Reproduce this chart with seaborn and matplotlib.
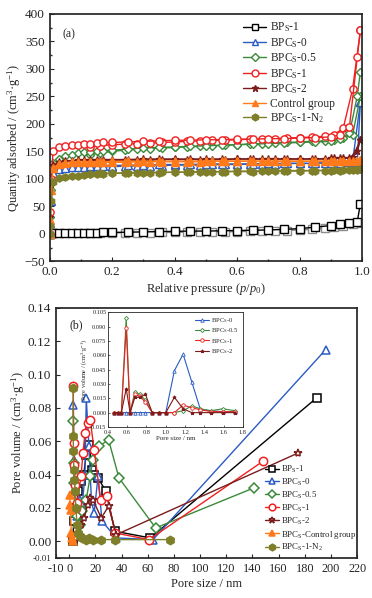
import matplotlib
matplotlib.use('Agg')
from matplotlib import pyplot as plt
from matplotlib.ticker import MultipleLocator, FormatStrFormatter
import seaborn as sns

# ---- (a) N2 isotherms ----
p_ads = [0.0, 0.001, 0.005, 0.01, 0.03, 0.05, 0.07, 0.09, 0.11, 0.13, 0.15, 0.17, 0.20, 0.25, 0.30, 0.35,
         0.40, 0.45, 0.50, 0.55, 0.60, 0.65, 0.70, 0.75, 0.80, 0.85, 0.90, 0.93, 0.96, 0.985, 0.995]
p_des = [0.995, 0.97, 0.94, 0.91, 0.88, 0.84, 0.80, 0.76, 0.72, 0.68, 0.64, 0.60, 0.56, 0.52, 0.48, 0.44,
         0.40, 0.36, 0.32, 0.28, 0.24, 0.20, 0.16, 0.13]

bps1_ads = [0, 0.5, 1, 1, 1.5, 1.5, 1.5, 2, 2, 2, 2, 2.5, 2.5, 3, 3.5, 4, 4.5, 5, 5, 5.5, 6, 6.5, 7, 8,
            9.5, 12, 15, 18, 20, 22, 55]
bps1_des = [20, 17, 14, 12, 10, 8, 7, 6, 5.5, 5, 4.5, 4, 3.5, 3.5, 3, 3, 2.5, 2.5, 2, 2, 2, 1.5, 1.5, 1.5]
bpc0_ads = [0, 20, 60, 110, 118, 120, 121, 122, 122, 123, 123, 124, 124, 125, 125, 126, 126, 126, 127, 127,
            127, 127, 128, 128, 128, 128, 129, 129, 130, 131, 240]
bpc0_des = [240, 131, 130, 129, 129, 128, 128, 128, 127, 127, 127, 126, 126, 126, 125, 125, 125, 124, 124,
            123, 123, 122, 122, 121]
bpc05_ads = [0, 30, 80, 128, 136, 141, 144, 146, 148, 149, 150, 151, 152, 154, 156, 157, 158, 159, 160, 161,
             162, 163, 164, 165, 166, 167, 168, 172, 183, 250, 295]
bpc05_des = [250, 180, 174, 171, 169, 168, 167, 166, 165, 164, 163, 162, 161, 160, 159, 158, 157, 156, 155,
             154, 152, 150, 147, 144]
bpc1_ads = [0, 40, 100, 150, 157, 160, 161, 162, 163, 164, 165, 166, 166, 167, 168, 169, 170, 170, 171, 171,
            172, 172, 173, 173, 174, 175, 176, 180, 195, 321, 370]
bpc1_des = [370, 263, 192, 180, 177, 176, 175, 174, 173, 172, 172, 171, 170, 170, 169, 168, 167, 166, 165,
            164, 163, 162, 160, 158]
bpc2_ads = [0, 30, 90, 125, 130, 132, 133, 134, 134, 135, 135, 135, 135, 135, 136, 136, 136, 136, 136, 136,
            136, 136, 136, 136, 136, 136, 137, 137, 138, 150, 170]
bpc2_des = [170, 140, 137, 137, 136, 136, 136, 136, 136, 136, 136, 136, 135, 135, 135, 135, 135, 135, 134,
            134, 134, 133, 133, 132]
ctrl_ads = [0, 25, 80, 120, 127, 129, 130, 130, 131, 131, 131, 131, 132, 132, 132, 132, 132, 132, 132, 132,
            132, 132, 132, 132, 132, 132, 132, 132, 132, 133, 134]
ctrl_des = [134, 133, 132, 132, 132, 132, 132, 132, 132, 132, 132, 132, 132, 132, 131, 131, 131, 131, 131,
            131, 130, 130, 130, 130]
n2_ads = [0, 15, 60, 95, 101, 103, 105, 106, 107, 108, 108, 109, 110, 110, 111, 111, 112, 112, 112, 113,
          113, 113, 114, 114, 114, 115, 115, 115, 116, 116, 117]
n2_des = [117, 116, 116, 116, 115, 115, 115, 115, 114, 114, 114, 114, 113, 113, 113, 112, 112, 112, 111,
          111, 111, 110, 110, 109]

# ---- (b) pore size distribution ----
bps1_x = [2.5, 3.5, 5, 7, 9, 11, 13, 15, 17, 19, 22, 28, 35, 62, 189]
bps1_y = [0.0, 0.012, 0.02, 0.03, 0.036, 0.04, 0.052, 0.058, 0.043, 0.04, 0.038, 0.030, 0.006, 0.002, 0.086]
bpc0_x = [3, 3.5, 4, 5, 6, 8, 10, 12, 13, 15, 17, 19, 22, 25, 36, 64, 196]
bpc0_y = [0.082, 0.049, 0.03, 0.02, 0.015, 0.025, 0.022, 0.04, 0.086, 0.057, 0.024, 0.017, 0.039, 0.012,
          0.002, 0.001, 0.115]
bpc05_x = [3, 3.5, 4, 5, 6, 8, 10, 13, 16, 18, 23, 30, 38, 66, 141]
bpc05_y = [0.072, 0.047, 0.035, 0.02, 0.015, 0.01, 0.018, 0.025, 0.039, 0.049, 0.057, 0.061, 0.038, 0.008,
           0.032]
bpc1_x = [3, 3.5, 4, 4.5, 5, 6, 9, 10.5, 12, 14, 16, 19, 24, 29, 35, 61, 148]
bpc1_y = [0.093, 0.059, 0.046, 0.034, 0.02, 0.023, 0.039, 0.053, 0.065, 0.071, 0.073, 0.055, 0.025, 0.027,
          0.005, 0.001, 0.048]
bpc2_x = [3, 5, 7, 9, 11.5, 14, 15.5, 18, 24.5, 30, 36, 175]
bpc2_y = [0.0, 0.002, 0.005, 0.01, 0.014, 0.022, 0.026, 0.025, 0.014, 0.021, 0.004, 0.053]
ctrl_x = [0.3, 0.6, 1.0, 1.5, 2.0, 2.5]
ctrl_y = [0.028, 0.022, 0.019, 0.005, 0.002, 0.0]
n2_x = [3, 3, 3.2, 3.5, 4, 4.5, 5, 6, 7, 8, 10, 13, 15, 18, 24, 35, 77]
n2_y = [0.092, 0.063, 0.054, 0.043, 0.037, 0.030, 0.020, 0.010, 0.005, 0.003, 0.002, 0.001, 0.002, 0.001,
        0.001, 0.001, 0.001]

# ---- inset: micropores ----
inset_x = [0.46, 0.50, 0.54, 0.59, 0.63, 0.68, 0.73, 0.79, 0.86, 0.93, 1.00, 1.09, 1.18, 1.27, 1.36, 1.47,
           1.59, 1.72]
inset_bpc0 = [0, 0, 0, 0, 0, 0, 0, 0, 0, 0, 0, 0.044, 0.061, 0.032, 0.003, 0.002, 0.001, 0.001]
inset_bpc05 = [0, 0, 0, 0.099, 0, 0.022, 0.019, 0.013, 0, 0, 0, 0, 0.002, 0.007, 0.004, 0.002, 0.004, 0.002]
inset_bpc1 = [0, 0, 0, 0.088, 0, 0.019, 0.017, 0.011, 0, 0, 0, 0, 0.008, 0.005, 0.003, 0.001, 0.001, 0.001]
inset_bpc2 = [0, 0, 0, 0.025, 0, 0.016, 0.016, 0.019, 0, 0, 0, 0.016, 0.004, 0, 0, 0, 0, 0]

BLACK, BLUE, GREEN, RED = '#000000', '#2a5bc4', '#3a8a3a', '#f02020'
DRED, ORANGE, OLIVE = '#7a1c1c', '#ff7a1a', '#7f7f2a'

sns.set_theme(style='ticks')
plt.rcParams['font.family'] = ['Liberation Serif', 'DejaVu Serif']
plt.rcParams['mathtext.fontset'] = 'custom'
plt.rcParams['mathtext.rm'] = 'Liberation Serif'
plt.rcParams['mathtext.it'] = 'Liberation Serif:italic'
plt.rcParams['xtick.direction'] = 'in'
plt.rcParams['ytick.direction'] = 'in'

fig = plt.figure(figsize=(3.72, 5.98), dpi=100)
ax1 = fig.add_axes([0.134, 0.563, 0.839, 0.414])
ax2 = fig.add_axes([0.151, 0.067, 0.809, 0.418])
ax3 = fig.add_axes([0.290, 0.286, 0.363, 0.192])


def curve(ax, x, y, color, marker, label=None, mfc='white', ms=5, lw=1.0, mew=1.0):
    sns.lineplot(x=x, y=y, ax=ax, sort=False, estimator=None, color=color, marker=marker,
                 mfc=mfc, mec=color, ms=ms, mew=mew, lw=lw, label=label, legend=False)


series_a = [
    (bps1_ads, bps1_des, BLACK, 's', 'white', 'BP$_\\mathrm{S}$-1'),
    (bpc0_ads, bpc0_des, BLUE, '^', 'white', 'BPC$_\\mathrm{S}$-0'),
    (bpc05_ads, bpc05_des, GREEN, 'D', 'white', 'BPC$_\\mathrm{S}$-0.5'),
    (bpc1_ads, bpc1_des, RED, 'o', 'white', 'BPC$_\\mathrm{S}$-1'),
    (bpc2_ads, bpc2_des, DRED, '*', DRED, 'BPC$_\\mathrm{S}$-2'),
    (ctrl_ads, ctrl_des, ORANGE, '^', ORANGE, 'Control group'),
    (n2_ads, n2_des, OLIVE, 'h', OLIVE, 'BPC$_\\mathrm{S}$-1-N$_2$'),
]
for ads, des, c, m, fc, lab in series_a:
    ms = 4.3 if m == 'D' else 5.2
    dc = '#8c8c8c' if c == BLACK else c
    curve(ax1, p_des, des, dc, m, None, fc, ms)
    curve(ax1, p_ads, ads, c, m, lab, fc, ms)

ax1.set_xlim(0, 1.0)
ax1.set_ylim(-50, 400)
ax1.xaxis.set_major_locator(MultipleLocator(0.2))
ax1.xaxis.set_minor_locator(MultipleLocator(0.1))
ax1.yaxis.set_major_locator(MultipleLocator(50))
ax1.yaxis.set_minor_locator(MultipleLocator(25))
ax1.xaxis.set_major_formatter(FormatStrFormatter('%.1f'))
ax1.set_xlabel('Relative pressure ($p$/$p_0$)', fontsize=9, labelpad=2)
ax1.set_ylabel('Quanity adsorbed / (cm$^3$·g$^{-1}$)', fontsize=9, labelpad=1)
ax1.tick_params(labelsize=9.5, length=3, width=0.8)
ax1.tick_params(which='minor', length=1.5)
ax1.text(0.04, 0.94, '(a)', transform=ax1.transAxes, fontsize=8.5, va='top')
h, l = ax1.get_legend_handles_labels()
ax1.legend(h, l, loc='upper right', bbox_to_anchor=(0.935, 1.0), frameon=False, fontsize=8.3,
           handlelength=2.0, labelspacing=0.14, handletextpad=0.3, borderaxespad=0.2, markerscale=0.95)

series_b = [
    (bps1_x, bps1_y, BLACK, 's', 'white', 'BP$_\\mathrm{S}$-1'),
    (bpc0_x, bpc0_y, BLUE, '^', 'white', 'BPC$_\\mathrm{S}$-0'),
    (bpc05_x, bpc05_y, GREEN, 'D', 'white', 'BPC$_\\mathrm{S}$-0.5'),
    (bpc1_x, bpc1_y, RED, 'o', 'white', 'BPC$_\\mathrm{S}$-1'),
    (bpc2_x, bpc2_y, DRED, '*', 'white', 'BPC$_\\mathrm{S}$-2'),
    (ctrl_x, ctrl_y, ORANGE, '^', ORANGE, 'BPC$_\\mathrm{S}$-Control group'),
    (n2_x, n2_y, OLIVE, 'h', OLIVE, 'BPC$_\\mathrm{S}$-1-N$_2$'),
]
for x, y, c, m, fc, lab in series_b:
    ms = 5 if m == 'D' else 6
    curve(ax2, x, y, c, m, lab, fc, ms, lw=1.0, mew=1.1)

ax2.set_xlim(-10, 220)
ax2.set_ylim(-0.01, 0.14)
ax2.set_xticks([-10] + list(range(0, 221, 20)))
ax2.set_xticklabels(['-10'] + [str(v) for v in range(0, 221, 20)])
ax2.set_yticks([-0.01, 0.0, 0.02, 0.04, 0.06, 0.08, 0.10, 0.12, 0.14])
ax2.set_yticklabels(['-0.01', '0.00', '0.02', '0.04', '0.06', '0.08', '0.10', '0.12', '0.14'])
ax2.set_xlabel('Pore size / nm', fontsize=9, labelpad=2)
ax2.set_ylabel('Pore volume / (cm$^3$·g$^{-1}$)', fontsize=9, labelpad=1)
ax2.tick_params(axis='y', labelsize=9.5, length=3, width=0.8)
ax2.tick_params(axis='x', labelsize=8.8, length=3, width=0.8)
ax2.get_yticklabels()[0].set_fontsize(6.5)
ax2.text(0.045, 0.955, '(b)', transform=ax2.transAxes, fontsize=8.5, va='top')
h, l = ax2.get_legend_handles_labels()
ax2.legend(h, l, loc='lower right', bbox_to_anchor=(1.01, 0.0), frameon=False, fontsize=6.4,
           handlelength=1.6, labelspacing=0.2, handletextpad=0.2, borderaxespad=0.1, markerscale=0.8)

series_i = [
    (inset_bpc0, BLUE, '^', 'BPC$_\\mathrm{S}$-0'),
    (inset_bpc05, GREEN, 'D', 'BPC$_\\mathrm{S}$-0.5'),
    (inset_bpc1, RED, 'o', 'BPC$_\\mathrm{S}$-1'),
    (inset_bpc2, DRED, '*', 'BPC$_\\mathrm{S}$-2'),
]
for y, c, m, lab in series_i:
    fc = c if m == '*' else 'white'
    sns.lineplot(x=inset_x, y=y, ax=ax3, sort=False, estimator=None, color=c, marker=m, mfc=fc, mec=c,
                 ms=2.5 if m != 'D' else 2.1, mew=0.6, lw=0.8, label=lab, legend=False)
ax3.set_xlim(0.4, 1.8)
ax3.set_ylim(-0.015, 0.105)
ax3.xaxis.set_major_locator(MultipleLocator(0.2))
ax3.yaxis.set_major_locator(MultipleLocator(0.015))
ax3.xaxis.set_major_formatter(FormatStrFormatter('%.1f'))
ax3.yaxis.set_major_formatter(FormatStrFormatter('%.3f'))
ax3.tick_params(labelsize=4.6, length=1.5, width=0.5, pad=1)
ax3.tick_params(axis='x', pad=2)
ax3.set_xlabel('Pore size / nm', fontsize=5, labelpad=1)
ax3.set_ylabel('Pore volume / (cm$^3$·g$^{-1}$)', fontsize=4.5, labelpad=1)
for s in ax3.spines.values():
    s.set_linewidth(0.6)
h, l = ax3.get_legend_handles_labels()
ax3.legend(h, l, loc='upper right', frameon=False, fontsize=4.8, handlelength=2.2, labelspacing=0.2,
           handletextpad=0.3, borderaxespad=0.2)

fig.savefig('out.png', dpi=100)
